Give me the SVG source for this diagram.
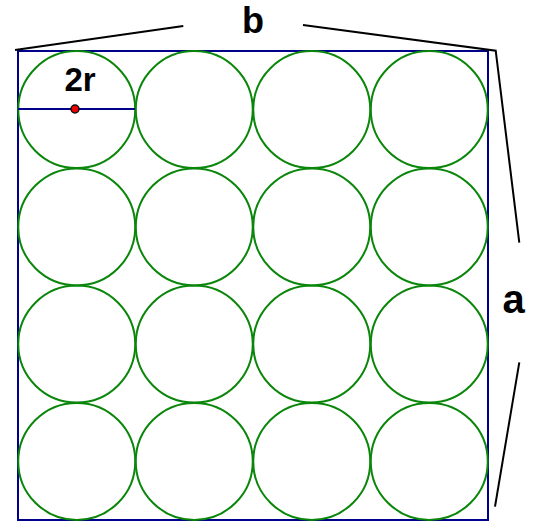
<svg xmlns="http://www.w3.org/2000/svg" width="535" height="521" viewBox="0 0 535 521">
<style>
.c{fill:none;stroke:#0a860a;stroke-width:2}
.sq{fill:none;stroke:#00008b;stroke-width:2}
.ln{fill:none;stroke:#000;stroke-width:2}
.t{font-family:"Liberation Sans",Arial,sans-serif;font-weight:bold;fill:#000}
</style>
<rect width="535" height="521" fill="#fff"/>
<g id="square"><rect class="sq" x="18" y="51" width="470" height="469"/></g>
<g id="circles">
<circle class="c" cx="76.75" cy="109.6" r="58.5"/>
<circle class="c" cx="194.25" cy="109.6" r="58.5"/>
<circle class="c" cx="311.75" cy="109.6" r="58.5"/>
<circle class="c" cx="429.25" cy="109.6" r="58.5"/>
<circle class="c" cx="76.75" cy="226.9" r="58.5"/>
<circle class="c" cx="194.25" cy="226.9" r="58.5"/>
<circle class="c" cx="311.75" cy="226.9" r="58.5"/>
<circle class="c" cx="429.25" cy="226.9" r="58.5"/>
<circle class="c" cx="76.75" cy="344.1" r="58.5"/>
<circle class="c" cx="194.25" cy="344.1" r="58.5"/>
<circle class="c" cx="311.75" cy="344.1" r="58.5"/>
<circle class="c" cx="429.25" cy="344.1" r="58.5"/>
<circle class="c" cx="76.75" cy="461.4" r="58.5"/>
<circle class="c" cx="194.25" cy="461.4" r="58.5"/>
<circle class="c" cx="311.75" cy="461.4" r="58.5"/>
<circle class="c" cx="429.25" cy="461.4" r="58.5"/>
</g>
<g id="diameter">
<line class="sq" x1="18" y1="109" x2="135" y2="109"/>
<circle cx="75" cy="109" r="4" fill="#e00" stroke="#111" stroke-width="1.5"/>
<text class="t" x="80" y="90.5" font-size="33" text-anchor="middle">2r</text>
</g>
<g id="connectors">
<polyline class="ln" points="183.3,26 15,50"/>
<polyline class="ln" points="303,25 495.7,50.7 519.3,242.7"/>
<polyline class="ln" points="519.3,362.3 495,506.7"/>
</g>
<g id="labels">
<text class="t" x="253" y="33" font-size="36" text-anchor="middle">b</text>
<text class="t" x="513.5" y="313" font-size="40" text-anchor="middle">a</text>
</g>
</svg>
